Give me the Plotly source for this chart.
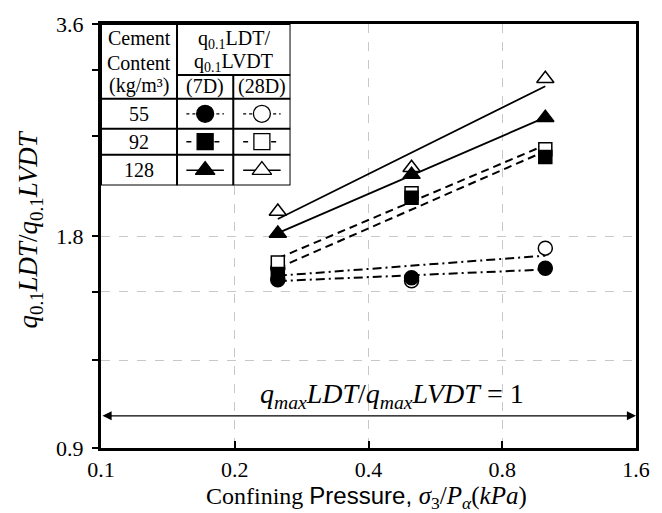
import numpy as np
import plotly.graph_objects as go

# Confining pressure, sigma3 / Pa
pressure = [0.25, 0.5, 1.0]

# q0.1 LDT / q0.1 LVDT ratios by cement content (kg/m3) and curing age
ratio_55_7d = [1.56, 1.57, 1.62]
ratio_55_28d = [1.62, 1.555, 1.73]
ratio_92_7d = [1.59, 2.04, 2.33]
ratio_92_28d = [1.65, 2.07, 2.39]
ratio_128_7d = [1.815, 2.20, 2.65]
ratio_128_28d = [1.95, 2.25, 3.01]

cement_contents = ["55", "92", "128"]
ages = ["(7D)", "(28D)"]

x_ticks = [0.1, 0.2, 0.4, 0.8, 1.6]
y_ticks = [0.9, 1.2, 1.5, 1.8, 3.6]
y_tick_text = ["0.9", "", "", "1.8", "3.6"]
y_minor_ticks = [2.5, 3.1]
unity_ratio = 1.0

SERIF = "Liberation Serif"
SANS = "Liberation Sans"

series = [
    # (content, age, values, symbol, filled, dash, width)
    ("55", "28D", ratio_55_28d, "circle", False, "9px,4px,2px,4px", 2.0),
    ("55", "7D", ratio_55_7d, "circle", True, "9px,4px,2px,4px", 2.0),
    ("92", "28D", ratio_92_28d, "square", False, "8px,5px", 2.0),
    ("92", "7D", ratio_92_7d, "square", True, "8px,5px", 2.0),
    ("128", "28D", ratio_128_28d, "triangle-up", False, "solid", 1.8),
    ("128", "7D", ratio_128_7d, "triangle-up", True, "solid", 1.8),
]
marker_size = {"circle": 14, "square": 13, "triangle-up": 15}


def power_trend(x, y):
    """Least-squares power law y = a * x^b (straight line on log-log axes)."""
    b, ln_a = np.polyfit(np.log(x), np.log(y), 1)
    xs = np.array([min(x), max(x)])
    return xs, np.exp(ln_a) * xs ** b


fig = go.Figure()

# trend lines first so the markers sit on top
for content, age, vals, sym, filled, dash, width in series:
    xs, ys = power_trend(pressure, vals)
    fig.add_trace(go.Scatter(
        x=xs, y=ys, mode="lines",
        line=dict(color="black", width=width, dash=dash),
        hoverinfo="skip", showlegend=False,
    ))

for content, age, vals, sym, filled, dash, width in series:
    fig.add_trace(go.Scatter(
        x=pressure, y=vals, mode="markers",
        name=f"{content} kg/m³ {age}",
        marker=dict(symbol=sym, size=marker_size[sym],
                    color="black" if filled else "white",
                    line=dict(color="black", width=1.5)),
        showlegend=False,
    ))

# ---- key table (own invisible axes, units in px of the table box) ----
col_edges = [0, 77, 134, 192]
row_edges = [0, 51, 75, 105, 131, 162]
col_mid = [(col_edges[i] + col_edges[i + 1]) / 2 for i in range(3)]
row_mid = [(row_edges[i] + row_edges[i + 1]) / 2 for i in range(2, 5)]

sample_styles = {
    "55": ("circle", "dot", 1.2, 17),
    "92": ("square", "5px,9px", 1.5, 16),
    "128": ("triangle-up", "solid", 1.5, 17),
}
for r, content in enumerate(cement_contents):
    sym, dash, lw, size = sample_styles[content]
    for c, filled in ((1, True), (2, False)):
        cx, cy = col_mid[c], row_mid[r]
        fig.add_trace(go.Scatter(
            x=[cx - 19, cx + 19], y=[cy, cy], mode="lines",
            line=dict(color="black", width=lw, dash=dash),
            xaxis="x2", yaxis="y2", hoverinfo="skip", showlegend=False,
        ))
        fig.add_trace(go.Scatter(
            x=[cx], y=[cy], mode="markers",
            marker=dict(symbol=sym, size=size,
                        color="black" if filled else "white",
                        line=dict(color="black", width=1.3)),
            xaxis="x2", yaxis="y2", hoverinfo="skip", showlegend=False,
        ))

shapes = [
    dict(type="rect", xref="x2", yref="y2", x0=0, x1=192, y0=0, y1=162,
         fillcolor="white", line=dict(width=0), layer="between"),
    dict(type="rect", xref="x2", yref="y2", x0=0, x1=192, y0=0, y1=162,
         line=dict(color="black", width=2), layer="above"),
    dict(type="line", xref="x2", yref="y2", x0=col_edges[1], x1=col_edges[1],
         y0=0, y1=162, line=dict(color="black", width=2), layer="above"),
    dict(type="line", xref="x2", yref="y2", x0=col_edges[2], x1=col_edges[2],
         y0=row_edges[1], y1=162, line=dict(color="black", width=2), layer="above"),
    dict(type="line", xref="x2", yref="y2", x0=col_edges[1], x1=192,
         y0=row_edges[1], y1=row_edges[1], line=dict(color="black", width=2), layer="above"),
]
for yv in row_edges[2:5]:
    shapes.append(dict(type="line", xref="x2", yref="y2", x0=0, x1=192, y0=yv, y1=yv,
                       line=dict(color="black", width=2), layer="above"))

tfont = dict(family=SERIF, size=20, color="black")
annotations = []


def cell(txt, x, y):
    annotations.append(dict(text=txt, x=x, y=y, xref="x2", yref="y2",
                            xanchor="center", yanchor="middle",
                            showarrow=False, font=tfont))


for txt, yv in (("Cement", 14), ("Content", 39), ("(kg/m³)", 62)):
    cell(txt, col_mid[0], yv)
cell("q<sub>0.1</sub>LDT/", 134.5, 16)
cell("q<sub>0.1</sub>LVDT", 134.5, 39)
for c, age in enumerate(ages):
    cell(age, col_mid[c + 1], 63)
for r, content in enumerate(cement_contents):
    cell(content, col_mid[0], row_mid[r])

# double-headed reference arrow at ratio = 1
lx0, lx1 = np.log10(x_ticks[0]), np.log10(x_ticks[-1])
annotations.append(dict(
    x=lx1, y=np.log10(unity_ratio), ax=lx0, ay=np.log10(unity_ratio),
    xref="x", yref="y", axref="x", ayref="y", text="", showarrow=True,
    arrowhead=2, startarrowhead=2, arrowside="end+start",
    arrowsize=1.4, startarrowsize=1.4, arrowwidth=1.3, arrowcolor="black",
    standoff=0, startstandoff=0,
))
annotations.append(dict(
    text="<i>q</i><sub><i>max</i></sub><i>LDT</i>/<i>q</i><sub><i>max</i></sub><i>LVDT</i> = 1",
    x=(396 - 101) / 542, xref="paper", xanchor="center",
    y=np.log10(unity_ratio), yref="y", yanchor="bottom", yshift=1, showarrow=False,
    font=dict(family=SERIF, size=28, color="black"),
))

# axis titles
annotations.append(dict(
    text="Confining <span style=\"font-family:Liberation Sans\">Pressure,\u00a0</span>"
         "<span style=\"font-size:25px\"><i>σ</i><sub>3</sub>/<i>P</i><sub><i>α</i></sub>"
         "(<i>kPa</i>)</span>",
    x=(370 - 101) / 542, y=-0.117, xref="paper", yref="paper",
    xanchor="center", yanchor="middle", showarrow=False,
    font=dict(family=SERIF, size=24, color="black"),
))
annotations.append(dict(
    text="<i>q</i><sub>0.1</sub><i>LDT</i>/<i>q</i><sub>0.1</sub><i>LVDT</i>",
    x=(29 - 101) / 542, y=0.515, xref="paper", yref="paper", textangle=-90,
    xanchor="center", yanchor="middle", showarrow=False,
    font=dict(family=SERIF, size=27, color="black"),
))

axis_common = dict(
    showline=True, linewidth=3, linecolor="black", mirror=True,
    tickwidth=2, tickcolor="black",
    showgrid=True, gridcolor="#c8c8c8", gridwidth=1, griddash="dash",
    zeroline=False, tickfont=dict(family=SERIF, size=22, color="black"),
)

fig.update_layout(
    width=662, height=513,
    margin=dict(l=101, r=19, t=23, b=65),
    paper_bgcolor="white", plot_bgcolor="white",
    xaxis=dict(type="log", range=[np.log10(x_ticks[0]), np.log10(x_ticks[-1])],
               tickmode="array", tickvals=x_ticks, ticktext=[str(v) for v in x_ticks],
               ticks="inside", ticklen=7, **axis_common),
    yaxis=dict(type="log", range=[np.log10(y_ticks[0]), np.log10(y_ticks[-1])],
               tickmode="array", tickvals=y_ticks, ticktext=y_tick_text,
               ticks="outside", ticklen=6, ticklabelstandoff=4,
               minor=dict(tickvals=y_minor_ticks, ticks="outside", ticklen=6,
                          tickwidth=2, tickcolor="black", showgrid=False),
               **axis_common),
    xaxis2=dict(domain=[0, 192 / 542], range=[0, 192], anchor="y2", visible=False),
    yaxis2=dict(domain=[1 - 162 / 425, 1], range=[162, 0], anchor="x2", visible=False),
    shapes=shapes,
    annotations=annotations,
    showlegend=False,
)

fig.write_html("out.html")
